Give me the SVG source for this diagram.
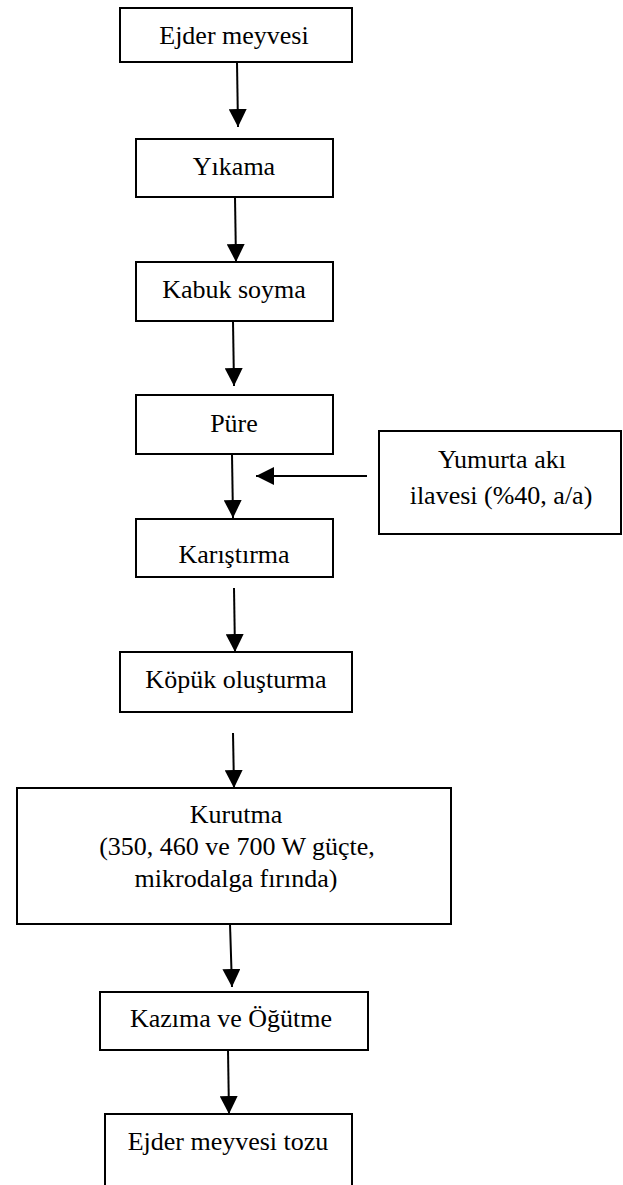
<svg xmlns="http://www.w3.org/2000/svg" width="623" height="1185" viewBox="0 0 623 1185">
<style>
.box{fill:#fff;stroke:#000;stroke-width:2}
.lbl{font-family:"Liberation Serif","Times New Roman",serif;font-size:26px;fill:#000;text-anchor:middle}
.con{stroke:#000;stroke-width:2;fill:none;marker-end:url(#ah)}
</style>
<defs>
<marker id="ah" markerUnits="userSpaceOnUse" markerWidth="18" markerHeight="18" viewBox="0 0 16 16" refX="16" refY="8" orient="auto">
<path d="M0,0 L16,8 L0,16 Z" fill="#000"/>
</marker>
</defs>
<rect width="623" height="1185" fill="#fff"/>
<g id="connectors">
<line class="con" x1="237" y1="62" x2="238" y2="127"/>
<line class="con" x1="235" y1="197" x2="236" y2="262"/>
<line class="con" x1="233" y1="321" x2="234" y2="386"/>
<line class="con" x1="232" y1="454" x2="233" y2="518"/>
<line class="con" x1="234" y1="588" x2="235" y2="652"/>
<line class="con" x1="233" y1="733" x2="234" y2="788"/>
<line class="con" x1="230" y1="924" x2="232" y2="987"/>
<line class="con" x1="228" y1="1050" x2="229" y2="1114"/>
<line class="con" x1="367" y1="476" x2="256" y2="476"/>
</g>
<g id="n1"><rect class="box" x="120" y="8" width="232" height="54"/><text class="lbl" x="234" y="44">Ejder meyvesi</text></g>
<g id="n2"><rect class="box" x="136" y="139" width="197" height="58"/><text class="lbl" x="234" y="175">Yıkama</text></g>
<g id="n3"><rect class="box" x="136" y="262" width="197" height="59"/><text class="lbl" x="234" y="298">Kabuk soyma</text></g>
<g id="n4"><rect class="box" x="136" y="395" width="197" height="59"/><text class="lbl" x="234" y="432">Püre</text></g>
<g id="n5"><rect class="box" x="379" y="431" width="242" height="103"/><text class="lbl" x="502" y="468">Yumurta akı</text><text class="lbl" x="501" y="504">ilavesi (%40, a/a)</text></g>
<g id="n6"><rect class="box" x="136" y="519" width="197" height="58"/><text class="lbl" x="234" y="563">Karıştırma</text></g>
<g id="n7"><rect class="box" x="120" y="652" width="232" height="60"/><text class="lbl" x="236" y="688">Köpük oluşturma</text></g>
<g id="n8"><rect class="box" x="17" y="788" width="434" height="136"/><text class="lbl" x="236" y="823">Kurutma</text><text class="lbl" x="237" y="855">(350, 460 ve 700 W güçte,</text><text class="lbl" x="236" y="887">mikrodalga fırında)</text></g>
<g id="n9"><rect class="box" x="100" y="992" width="268" height="58"/><text class="lbl" x="231" y="1027">Kazıma ve Öğütme</text></g>
<g id="n10"><rect class="box" x="105" y="1114" width="247" height="80"/><text class="lbl" x="228" y="1150">Ejder meyvesi tozu</text></g>
</svg>
